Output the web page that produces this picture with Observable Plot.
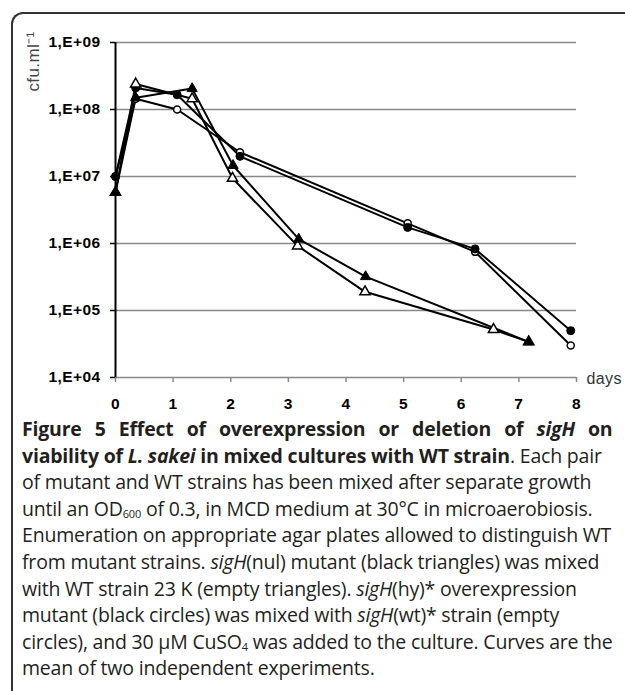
<!DOCTYPE html>
<html><head><meta charset="utf-8">
<script src="https://cdn.jsdelivr.net/npm/d3@7"></script>
<script src="https://cdn.jsdelivr.net/npm/@observablehq/plot@0.6"></script>
<style>
html,body{margin:0;padding:0;background:#fff}
body{width:625px;height:691px;overflow:hidden;position:relative;font-family:"Liberation Sans",Arial,sans-serif}
#frame{position:absolute;left:11px;top:12px;width:700px;height:700px;border-left:2px solid #333;border-top:2px solid #333;border-top-left-radius:12px;box-sizing:border-box}
#chart{position:absolute;left:0;top:0}
#caption{position:absolute;left:22px;top:416px;font-family:"Open Sans",sans-serif;font-size:19.5px;line-height:26.6px;color:#231f20;white-space:nowrap;letter-spacing:-0.2px}
#caption .line{display:block;height:26.6px;overflow:visible}
#caption .l1{word-spacing:8.2px}
#caption sub{font-size:11px;vertical-align:-2px;line-height:0}
</style>
</head><body>
<div id="frame"></div>
<div id="chart"></div>
<div id="caption">
<span class="line l1"><b>Figure 5 Effect of overexpression or deletion of <i>sigH</i> on</b></span>
<span class="line"><b>viability of <i>L. sakei</i> in mixed cultures with WT strain</b>. Each pair</span>
<span class="line">of mutant and WT strains has been mixed after separate growth</span>
<span class="line">until an OD<sub>600</sub> of 0.3, in MCD medium at 30°C in microaerobiosis.</span>
<span class="line">Enumeration on appropriate agar plates allowed to distinguish WT</span>
<span class="line">from mutant strains. <i>sigH</i>(nul) mutant (black triangles) was mixed</span>
<span class="line">with WT strain 23 K (empty triangles). <i>sigH</i>(hy)* overexpression</span>
<span class="line">mutant (black circles) was mixed with <i>sigH</i>(wt)* strain (empty</span>
<span class="line">circles), and 30 μM CuSO<sub>4</sub> was added to the culture. Curves are the</span>
<span class="line">mean of two independent experiments.</span>
</div>
<script>
// sigH(nul) mutant — black triangles
const nulDays = [0, 0.35, 1.33, 2.04, 3.18, 4.34, 7.17];
const nulCfu  = [5.8e6, 1.5e8, 2.05e8, 1.46e7, 1.16e6, 3.2e5, 3.4e4];
// WT strain 23 K — empty triangles
const wt23Days = [0, 0.35, 1.33, 2.03, 3.16, 4.33, 6.56, 7.17];
const wt23Cfu  = [5.8e6, 2.4e8, 1.45e8, 9.4e6, 9.2e5, 1.9e5, 5.2e4, 3.4e4];
// sigH(hy)* overexpression mutant — black circles
const hyDays = [0, 0.35, 1.07, 2.16, 5.07, 6.24, 7.9];
const hyCfu  = [1e7, 2.1e8, 1.66e8, 2.0e7, 1.74e6, 8.3e5, 5e4];
// sigH(wt)* strain — empty circles
const wtDays = [0, 0.35, 1.07, 2.16, 5.07, 6.24, 7.9];
const wtCfu  = [1e7, 1.45e8, 1e8, 2.3e7, 2.0e6, 7.5e5, 3e4];

const yTicks = [1e4, 1e5, 1e6, 1e7, 1e8, 1e9];
const yTickLabels = ["1,E+04", "1,E+05", "1,E+06", "1,E+07", "1,E+08", "1,E+09"];
const xTicks = [0, 1, 2, 3, 4, 5, 6, 7, 8];
const gridLevels = [1e5, 1e6, 1e7, 1e8, 1e9];

const toRows = (days, cfu) => days.map((d, i) => ({day: d, cfu: cfu[i]}));
const nul = toRows(nulDays, nulCfu);
const wt23 = toRows(wt23Days, wt23Cfu);
const hy = toRows(hyDays, hyCfu);
const wt = toRows(wtDays, wtCfu);

const line = (data) => Plot.line(data, {x: "day", y: "cfu", stroke: "#000", strokeWidth: 2});

const chart = Plot.plot({
  width: 625,
  height: 415,
  marginLeft: 115,
  marginRight: 49,
  marginTop: 42,
  marginBottom: 38,
  x: {domain: [0, 8]},
  y: {type: "log", domain: [1e4, 1e9]},
  style: {fontFamily: "'Liberation Sans', Arial, sans-serif", fontSize: "15.5px", fontWeight: "bold", color: "#000", background: "transparent", letterSpacing: "0.4px"},
  marks: [
    Plot.ruleY(gridLevels, {stroke: "#888", strokeWidth: 1.5}),
    Plot.ruleY([yTicks[0]], {stroke: "#888", strokeWidth: 1.5}),
    Plot.axisX({ticks: xTicks, tickSize: 5, tickPadding: 15, label: null, stroke: "#888", strokeWidth: 1.5}),
    Plot.axisY({ticks: yTicks, tickFormat: (d) => yTickLabels[yTicks.indexOf(d)], tickSize: 5, tickPadding: 10, label: null, stroke: "#000", strokeWidth: 1.5}),
    Plot.ruleX([xTicks[0]], {stroke: "#000", strokeWidth: 2}),
    line(nul), line(wt23), line(hy), line(wt),
    Plot.dot(wt, {x: "day", y: "cfu", symbol: "circle", r: 3.5, fill: "#fff", stroke: "#000", strokeWidth: 1.5}),
    Plot.dot(hy, {x: "day", y: "cfu", symbol: "circle", r: 4, fill: "#000", stroke: "#000", strokeWidth: 1}),
    Plot.dot(wt23, {x: "day", y: "cfu", symbol: "triangle", r: 3.8, fill: "#fff", stroke: "#000", strokeWidth: 1.5}),
    Plot.dot(nul, {x: "day", y: "cfu", symbol: "triangle", r: 3.8, fill: "#000", stroke: "#000", strokeWidth: 1}),
    Plot.text(["days"], {frameAnchor: "bottom-right", dx: 10, dy: 1, textAnchor: "start", lineAnchor: "middle", fontSize: 16, fontWeight: "normal", fill: "#333"}),
    Plot.text(["cfu.ml⁻¹"], {frameAnchor: "top-left", dx: -82, dy: 19, rotate: -90, textAnchor: "middle", lineAnchor: "middle", fontSize: 17, fontWeight: "normal", fill: "#444"})
  ]
});
document.getElementById("chart").appendChild(chart);
</script>
</body></html>
